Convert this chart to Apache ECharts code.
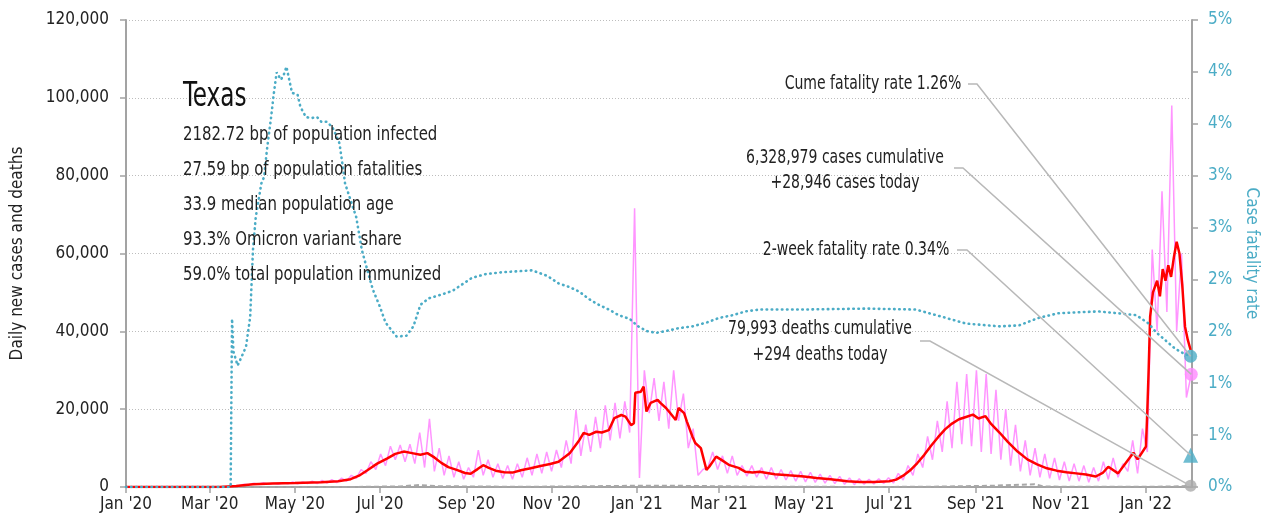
<!DOCTYPE html>
<html>
<head>
<meta charset="utf-8">
<script src="https://cdn.jsdelivr.net/npm/echarts@6/dist/echarts.min.js"></script>
<style>
  html, body { margin: 0; padding: 0; background: #fff; }
  #chart { width: 1265px; height: 527px; }
</style>
</head>
<body>
<div id="chart"></div>
<script>
var FONT = '"DejaVu Sans Condensed", "DejaVu Sans", sans-serif'
var BLUE = '#4bacc6'
var PINK = '#ff95ff'

// x axis: days since Jan 1 2020
var startDate = '2020-01-01'
var endDate = '2022-02-03'
var tickDates = ['2020-01-01', '2020-03-01', '2020-05-01', '2020-07-01', '2020-09-01', '2020-11-01',
  '2021-01-01', '2021-03-01', '2021-05-01', '2021-07-01', '2021-09-01', '2021-11-01', '2022-01-01']
var tickLabels = ["Jan '20", "Mar '20", "May '20", "Jul '20", "Sep '20", "Nov '20",
  "Jan '21", "Mar '21", "May '21", "Jul '21", "Sep '21", "Nov '21", "Jan '22"]

// daily new cases, sampled twice a week (low / high of each week) from Mar 1 2020
var pinkStart = '2020-03-01'
var pinkStep = 3.5
var dailyCases = [
  0, 10, 10, 30, 50, 200, 300, 700, 600, 1000, 700, 1100, 700, 1000, 700, 1100,
  800, 1300, 800, 1300, 900, 1500, 900, 1700, 1000, 1900, 1100, 2300, 1500, 3000,
  2200, 4500, 3500, 6500, 4500, 8500, 5500, 10500, 7000, 10800, 6500, 11000, 6000, 14000,
  5000, 17500, 4000, 10000, 3000, 8000, 2500, 6500, 2000, 5000, 2500, 9500, 3000, 7000,
  2500, 6000, 2200, 5500, 2000, 6000, 2500, 7500, 3000, 8500, 3500, 9000, 4000, 9500,
  5000, 12000, 6000, 19800, 8000, 16000, 9000, 18000, 10000, 21000, 12000, 21600, 12500, 22000,
  14000, 71600, 2300, 30000, 19000, 28000, 17000, 27000, 15000, 30000, 17000, 24000, 10000, 15000,
  3000, 4500, 5000, 9000, 4500, 8000, 3500, 8000, 3000, 5500, 2800, 5500, 2500, 5000,
  2000, 5000, 2000, 4500, 1800, 4200, 1500, 4000, 1300, 3800, 1200, 3300, 1000, 3000,
  900, 2700, 700, 2300, 600, 2100, 700, 2000, 800, 2100, 900, 2400, 1000, 3500,
  1800, 5500, 3000, 8500, 5000, 13000, 7000, 17000, 9000, 22000, 10000, 27000, 11000, 29000,
  10500, 30000, 9000, 29000, 8500, 25000, 7000, 20000, 5500, 16000, 4000, 12000, 3000, 10000,
  2500, 8500, 2200, 7500, 1800, 6500, 1500, 6000, 1500, 5500, 1200, 5000, 1500, 6500,
  2000, 7500, 2500, 6000, 4000, 12000, 3500, 15000, 9000, 61000, 40000, 76000, 45000, 98000,
  40000, 60000, 23000, 28946
]

// 7-day average of new cases
var avgCases = [
  ['2020-01-01', 0], ['2020-03-08', 0], ['2020-03-20', 250], ['2020-04-01', 700], ['2020-04-15', 900],
  ['2020-05-01', 1000], ['2020-05-20', 1200], ['2020-06-01', 1500], ['2020-06-10', 2000], ['2020-06-16', 2900],
  ['2020-06-22', 4300], ['2020-06-29', 6000], ['2020-07-06', 7300], ['2020-07-12', 8500], ['2020-07-18', 9100],
  ['2020-07-24', 8700], ['2020-07-30', 8300], ['2020-08-04', 8700], ['2020-08-09', 7600], ['2020-08-14', 6200],
  ['2020-08-19', 5100], ['2020-08-25', 4400], ['2020-08-31', 3600], ['2020-09-04', 3400], ['2020-09-09', 4600],
  ['2020-09-13', 5600], ['2020-09-17', 4900], ['2020-09-22', 4200], ['2020-09-28', 3800], ['2020-10-04', 3700],
  ['2020-10-10', 4300], ['2020-10-17', 4800], ['2020-10-24', 5400], ['2020-10-31', 5900], ['2020-11-06', 6500],
  ['2020-11-14', 8700], ['2020-11-21', 12100], ['2020-11-24', 13900], ['2020-11-28', 13400], ['2020-12-03', 14200],
  ['2020-12-07', 14000], ['2020-12-12', 14600], ['2020-12-16', 17700], ['2020-12-21', 18500], ['2020-12-24', 18100],
  ['2020-12-28', 15900], ['2020-12-30', 16400], ['2020-12-31', 24200], ['2021-01-04', 24500], ['2021-01-06', 25800],
  ['2021-01-08', 19400], ['2021-01-11', 21600], ['2021-01-16', 22400], ['2021-01-18', 21600], ['2021-01-22', 20300],
  ['2021-01-25', 19000], ['2021-01-29', 17200], ['2021-01-31', 20300], ['2021-02-04', 19000], ['2021-02-06', 16800],
  ['2021-02-10', 12900], ['2021-02-12', 11300], ['2021-02-16', 10000], ['2021-02-20', 4400], ['2021-02-22', 5200],
  ['2021-02-27', 7800], ['2021-03-03', 6900], ['2021-03-08', 5700], ['2021-03-15', 4900], ['2021-03-20', 3900],
  ['2021-03-25', 3700], ['2021-03-30', 3900], ['2021-04-10', 3300], ['2021-04-20', 3000], ['2021-05-01', 2700],
  ['2021-05-10', 2300], ['2021-05-20', 2000], ['2021-06-01', 1500], ['2021-06-10', 1300], ['2021-06-20', 1300],
  ['2021-07-01', 1500], ['2021-07-06', 1900], ['2021-07-11', 2900], ['2021-07-16', 4300], ['2021-07-21', 6100],
  ['2021-07-26', 8200], ['2021-07-31', 10600], ['2021-08-05', 12800], ['2021-08-10', 14800], ['2021-08-15', 16300],
  ['2021-08-20', 17400], ['2021-08-25', 18000], ['2021-08-30', 18600], ['2021-09-03', 17600], ['2021-09-08', 18200],
  ['2021-09-12', 16200], ['2021-09-18', 14000], ['2021-09-24', 11600], ['2021-10-01', 9100], ['2021-10-08', 7100],
  ['2021-10-15', 5800], ['2021-10-22', 4800], ['2021-10-29', 4200], ['2021-11-05', 3800], ['2021-11-12', 3500],
  ['2021-11-19', 3200], ['2021-11-26', 2700], ['2021-12-01', 3600], ['2021-12-05', 5200], ['2021-12-12', 3500],
  ['2021-12-19', 6900], ['2021-12-23', 8800], ['2021-12-26', 7100], ['2022-01-01', 10400], ['2022-01-02', 19800],
  ['2022-01-03', 30900], ['2022-01-04', 43800], ['2022-01-06', 50000], ['2022-01-09', 53000], ['2022-01-11', 49000],
  ['2022-01-13', 56000], ['2022-01-15', 53000], ['2022-01-17', 57000], ['2022-01-19', 54000], ['2022-01-21', 59000],
  ['2022-01-23', 63000], ['2022-01-25', 60000], ['2022-01-27', 52000], ['2022-01-29', 41200], ['2022-01-31', 37800],
  ['2022-02-02', 35200]
]

// daily deaths
var dailyDeaths = [
  ['2020-01-01', 0], ['2020-03-15', 0], ['2020-04-15', 30], ['2020-06-15', 30], ['2020-07-15', 150],
  ['2020-07-29', 500], ['2020-08-10', 220], ['2020-09-01', 150], ['2020-10-01', 80], ['2020-11-01', 100],
  ['2020-12-01', 200], ['2021-01-10', 350], ['2021-02-01', 300], ['2021-03-01', 200], ['2021-04-01', 70],
  ['2021-05-01', 40], ['2021-07-01', 20], ['2021-08-01', 80], ['2021-09-01', 250], ['2021-09-15', 350],
  ['2021-10-13', 700], ['2021-10-20', 150], ['2021-11-01', 80], ['2021-12-01', 70], ['2022-01-01', 50],
  ['2022-01-20', 150], ['2022-02-02', 294]
]

// case fatality rate, percent
var fatalityRate = [
  ['2020-01-01', 0], ['2020-03-16', 0], ['2020-03-17', 1.80], ['2020-03-18', 1.45], ['2020-03-21', 1.30],
  ['2020-03-24', 1.40], ['2020-03-27', 1.50], ['2020-03-30', 1.82], ['2020-03-31', 2.18], ['2020-04-01', 2.54],
  ['2020-04-03', 2.89], ['2020-04-07', 3.25], ['2020-04-09', 3.32], ['2020-04-11', 3.61], ['2020-04-14', 3.96],
  ['2020-04-16', 4.22], ['2020-04-18', 4.44], ['2020-04-21', 4.36], ['2020-04-23', 4.41], ['2020-04-25', 4.50],
  ['2020-04-27', 4.36], ['2020-04-29', 4.22], ['2020-05-03', 4.20], ['2020-05-05', 4.07], ['2020-05-09', 3.96],
  ['2020-05-13', 3.95], ['2020-05-17', 3.96], ['2020-05-20', 3.91], ['2020-05-24', 3.91], ['2020-05-28', 3.85],
  ['2020-06-02', 3.68], ['2020-06-04', 3.47], ['2020-06-06', 3.25], ['2020-06-10', 3.07], ['2020-06-14', 2.89],
  ['2020-06-18', 2.54], ['2020-06-22', 2.32], ['2020-06-26', 2.11], ['2020-07-01', 1.93], ['2020-07-05', 1.76],
  ['2020-07-13', 1.61], ['2020-07-20', 1.62], ['2020-07-25', 1.72], ['2020-07-30', 1.95], ['2020-08-05', 2.02],
  ['2020-08-14', 2.06], ['2020-08-22', 2.10], ['2020-08-29', 2.17], ['2020-09-05', 2.24], ['2020-09-15', 2.28],
  ['2020-09-27', 2.30], ['2020-10-08', 2.31], ['2020-10-18', 2.32], ['2020-10-29', 2.26], ['2020-11-06', 2.18],
  ['2020-11-14', 2.14], ['2020-11-21', 2.09], ['2020-11-28', 2.01], ['2020-12-05', 1.95], ['2020-12-12', 1.90],
  ['2020-12-19', 1.84], ['2020-12-27', 1.80], ['2021-01-02', 1.72], ['2021-01-08', 1.67], ['2021-01-15', 1.65],
  ['2021-01-22', 1.67], ['2021-01-31', 1.70], ['2021-02-10', 1.72], ['2021-02-20', 1.76], ['2021-03-01', 1.81],
  ['2021-03-11', 1.84], ['2021-03-20', 1.88], ['2021-03-30', 1.90], ['2021-04-28', 1.90], ['2021-06-15', 1.91],
  ['2021-07-20', 1.90], ['2021-08-06', 1.83], ['2021-08-25', 1.75], ['2021-09-18', 1.72], ['2021-10-02', 1.73],
  ['2021-10-16', 1.81], ['2021-10-30', 1.86], ['2021-11-13', 1.87], ['2021-11-28', 1.88], ['2021-12-12', 1.86],
  ['2021-12-25', 1.84], ['2022-01-03', 1.75], ['2022-01-08', 1.66], ['2022-01-15', 1.57], ['2022-01-22', 1.48],
  ['2022-01-28', 1.43], ['2022-02-02', 1.40]
]
var twoWeekRate = 0.34

var statLines = ['2182.72 bp of population infected', '27.59 bp of population fatalities',
  '33.9 median population age', '93.3% Omicron variant share', '59.0% total population immunized']
var cumeText = 'Cume fatality rate 1.26%'
var casesText = ['6,328,979 cases cumulative', '+28,946 cases today']
var twoWeekText = '2-week fatality rate 0.34%'
var deathsText = ['79,993 deaths cumulative', '+294 deaths today']

var dayMs = 86400000
var dayOf = function (s) {
  return (Date.parse(s) - Date.parse(startDate)) / dayMs
}
var toPairs = function (list) {
  return list.map(function (p) { return [dayOf(p[0]), p[1]] })
}

var pinkData = dailyCases.map(function (v, i) { return [dayOf(pinkStart) + i * pinkStep, v] })
var redData = toPairs(avgCases)
var deathData = toPairs(dailyDeaths)
var rateData = toPairs(fatalityRate)
var tickDays = tickDates.map(dayOf)
var labelByDay = {}
for (var i = 0; i < tickDays.length; i++) {
  labelByDay[tickDays[i]] = tickLabels[i]
}

var lastPink = pinkData[pinkData.length - 1]
var lastRate = rateData[rateData.length - 1]
var lastDeath = deathData[deathData.length - 1]

var AXIS_GRAY = '#a3a3a3'
var textStyle = function (size, color) {
  return { fontFamily: FONT, fontSize: size, color: color || '#222' }
}

// narrow-looking text: the font is squeezed horizontally around its anchor
var label = function (str, x, y, size, sx, align, color) {
  return {
    type: 'text', x: x, y: y, scaleX: sx, z: 50,
    style: { text: str, x: 0, y: 0, font: size + 'px ' + FONT, fill: color || '#222', textAlign: align, textVerticalAlign: 'middle' }
  }
}

var texts = []
texts.push(label('Texas', 183, 97, 33, 0.78, 'left', '#111'))
for (var k = 0; k < statLines.length; k++) {
  texts.push(label(statLines[k], 183, 135 + k * 35, 20, 0.83, 'left'))
}
texts.push(label(cumeText, 873, 84, 20, 0.78, 'center'))
texts.push(label(casesText[0], 845, 158, 20, 0.78, 'center'))
texts.push(label(casesText[1], 845, 183, 20, 0.78, 'center'))
texts.push(label(twoWeekText, 856, 250, 20, 0.78, 'center'))
texts.push(label(deathsText[0], 820, 329, 20, 0.78, 'center'))
texts.push(label(deathsText[1], 820, 355, 20, 0.78, 'center'))

var chart = echarts.init(document.getElementById('chart'))
var option = {
  animation: false,
  backgroundColor: '#fff',
  grid: { left: 126, right: 73, top: 20, bottom: 40, outerBoundsMode: 'none' },
  xAxis: {
    type: 'value',
    min: 0,
    max: dayOf(endDate),
    axisLine: { show: true, lineStyle: { color: AXIS_GRAY, width: 2 } },
    axisTick: { show: true, customValues: tickDays, length: 6, lineStyle: { color: AXIS_GRAY, width: 1.5 } },
    axisLabel: {
      customValues: tickDays,
      margin: 9,
      fontFamily: FONT, fontSize: 17, color: '#222',
      formatter: function (v) { return labelByDay[v] || '' }
    },
    splitLine: { show: false }
  },
  yAxis: [
    {
      type: 'value',
      min: 0, max: 120000, interval: 20000,
      name: 'Daily new cases and deaths',
      nameLocation: 'middle',
      nameRotate: 90,
      nameGap: 100,
      nameTextStyle: textStyle(17),
      axisLine: { show: true, lineStyle: { color: AXIS_GRAY, width: 2 } },
      axisTick: { show: true, length: 6, lineStyle: { color: AXIS_GRAY, width: 1.5 } },
      axisLabel: {
        margin: 17, fontFamily: FONT, fontSize: 17, color: '#222',
        formatter: function (v) { return v.toLocaleString('en-US') }
      },
      splitLine: { show: true, lineStyle: { color: '#bdbdbd', type: [1, 2], width: 1 } }
    },
    {
      type: 'value',
      position: 'right',
      min: 0, max: 5, interval: 5 / 9,
      name: 'Case fatality rate',
      nameLocation: 'middle',
      nameRotate: -90,
      nameGap: 46,
      nameTextStyle: textStyle(17, BLUE),
      axisLine: { show: true, lineStyle: { color: AXIS_GRAY, width: 2 } },
      axisTick: { show: true, length: 6, lineStyle: { color: AXIS_GRAY, width: 1.5 } },
      axisLabel: {
        margin: 16, fontFamily: FONT, fontSize: 17, color: BLUE,
        formatter: function (v) { return Math.round(v) + '%' }
      },
      splitLine: { show: false }
    }
  ],
  series: [
    {
      name: 'New cases', type: 'line', data: pinkData, symbol: 'none', z: 2,
      lineStyle: { color: PINK, width: 1.5 }
    },
    {
      name: 'Deaths', type: 'line', data: deathData, symbol: 'none', z: 3,
      lineStyle: { color: '#a8a8a8', width: 2, type: [5, 3] }
    },
    {
      name: '7-day average', type: 'line', data: redData, symbol: 'none', z: 4,
      lineStyle: { color: '#ff0000', width: 2.5 }
    },
    {
      name: 'Case fatality rate', type: 'line', yAxisIndex: 1, data: rateData, symbol: 'none', z: 5,
      lineStyle: { color: BLUE, width: 2.6, type: [0.5, 4.6], cap: 'round' }
    },
    {
      type: 'scatter', yAxisIndex: 0, data: [lastDeath], symbol: 'circle', symbolSize: 12, z: 10,
      itemStyle: { color: '#aaaaaa' }
    },
    {
      type: 'scatter', yAxisIndex: 1, data: [[lastRate[0], twoWeekRate]], symbol: 'triangle', symbolSize: 15, z: 10,
      itemStyle: { color: BLUE }
    },
    {
      type: 'scatter', yAxisIndex: 0, data: [lastPink], symbol: 'circle', symbolSize: 13, z: 10,
      itemStyle: { color: '#ff88ff' }
    },
    {
      type: 'scatter', yAxisIndex: 1, data: [lastRate], symbol: 'circle', symbolSize: 13, z: 10,
      itemStyle: { color: BLUE }
    }
  ],
  graphic: texts
}
chart.setOption(option)

// leader lines from the notes to the end markers
var px = function (yIndex, p) {
  return chart.convertToPixel({ xAxisIndex: 0, yAxisIndex: yIndex }, p)
}
var leader = function (x0, x1, y, end) {
  return { type: 'polyline', z: 40, shape: { points: [[x0, y], [x1, y], end] }, style: { stroke: '#b8b8b8', lineWidth: 1.5, fill: null } }
}
var lines = [
  leader(968, 977, 84, px(1, lastRate)),
  leader(954, 963, 168, px(0, lastPink)),
  leader(957, 967, 250, px(1, [lastRate[0], twoWeekRate])),
  leader(920, 930, 341, px(0, lastDeath))
]
chart.setOption({ graphic: texts.concat(lines) })
</script>
</body>
</html>
